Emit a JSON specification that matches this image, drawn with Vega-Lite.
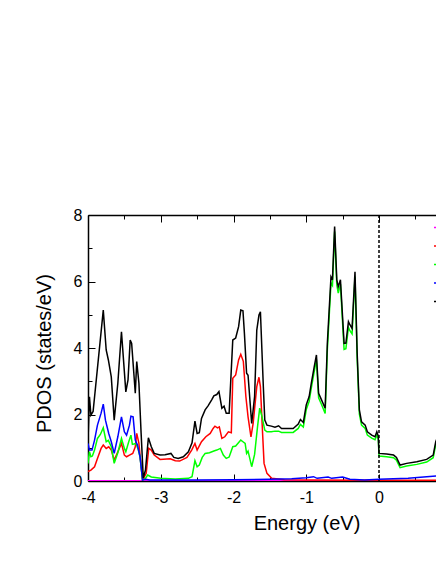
{
  "$schema": "https://vega.github.io/schema/vega-lite/v6.json",
  "autosize": "none",
  "padding": {"left": 88, "top": 215, "right": 0, "bottom": 83},
  "width": 348,
  "height": 266,
  "config": {
    "font": "Liberation Sans",
    "view": {"stroke": null},
    "axis": {
      "grid": false,
      "domainColor": "black",
      "domainWidth": 1.5,
      "tickColor": "black",
      "tickWidth": 1,
      "labelColor": "black",
      "titleColor": "black",
      "labelFont": "Liberation Sans",
      "titleFont": "Liberation Sans",
      "labelFontSize": 16,
      "titleFontSize": 20,
      "titleFontWeight": "normal",
      "labelFlush": false,
      "labelOverlap": false
    }
  },
  "layer": [
    {
      "data": {
        "values": [
          {"E": -4.0, "k": "s", "v": 0.01}, {"E": 2.0, "k": "s", "v": 0.01},

          {"E": -4.0, "k": "p", "v": 0.28}, {"E": -3.96, "k": "p", "v": 0.33}, {"E": -3.91, "k": "p", "v": 0.43}, {"E": -3.87, "k": "p", "v": 0.68}, {"E": -3.82, "k": "p", "v": 0.98}, {"E": -3.79, "k": "p", "v": 1.08}, {"E": -3.75, "k": "p", "v": 0.98}, {"E": -3.715, "k": "p", "v": 1.03}, {"E": -3.68, "k": "p", "v": 0.93}, {"E": -3.64, "k": "p", "v": 0.63}, {"E": -3.59, "k": "p", "v": 0.88}, {"E": -3.54, "k": "p", "v": 1.13}, {"E": -3.5, "k": "p", "v": 0.78}, {"E": -3.47, "k": "p", "v": 0.73}, {"E": -3.43, "k": "p", "v": 0.78}, {"E": -3.385, "k": "p", "v": 0.83}, {"E": -3.35, "k": "p", "v": 1.03}, {"E": -3.33, "k": "p", "v": 1.43}, {"E": -3.3, "k": "p", "v": 1.13}, {"E": -3.285, "k": "p", "v": 0.78}, {"E": -3.25, "k": "p", "v": 0.03}, {"E": -3.2, "k": "p", "v": 0.23}, {"E": -3.165, "k": "p", "v": 0.98}, {"E": -3.13, "k": "p", "v": 0.93}, {"E": -3.09, "k": "p", "v": 0.78}, {"E": -3.01, "k": "p", "v": 0.65}, {"E": -2.87, "k": "p", "v": 0.67}, {"E": -2.8, "k": "p", "v": 0.61}, {"E": -2.74, "k": "p", "v": 0.6}, {"E": -2.64, "k": "p", "v": 0.71}, {"E": -2.575, "k": "p", "v": 0.93}, {"E": -2.53, "k": "p", "v": 1.13}, {"E": -2.5, "k": "p", "v": 0.93}, {"E": -2.44, "k": "p", "v": 1.18}, {"E": -2.38, "k": "p", "v": 1.33}, {"E": -2.32, "k": "p", "v": 1.43}, {"E": -2.28, "k": "p", "v": 1.58}, {"E": -2.255, "k": "p", "v": 1.65}, {"E": -2.22, "k": "p", "v": 1.6}, {"E": -2.195, "k": "p", "v": 1.63}, {"E": -2.16, "k": "p", "v": 1.28}, {"E": -2.12, "k": "p", "v": 1.33}, {"E": -2.07, "k": "p", "v": 1.48}, {"E": -2.03, "k": "p", "v": 1.45}, {"E": -2.01, "k": "p", "v": 3.09}, {"E": -1.97, "k": "p", "v": 3.19}, {"E": -1.93, "k": "p", "v": 3.64}, {"E": -1.9, "k": "p", "v": 3.81}, {"E": -1.865, "k": "p", "v": 3.6}, {"E": -1.83, "k": "p", "v": 2.54}, {"E": -1.8, "k": "p", "v": 1.93}, {"E": -1.76, "k": "p", "v": 1.33}, {"E": -1.73, "k": "p", "v": 1.73}, {"E": -1.68, "k": "p", "v": 2.84}, {"E": -1.65, "k": "p", "v": 3.12}, {"E": -1.63, "k": "p", "v": 2.84}, {"E": -1.6, "k": "p", "v": 1.43}, {"E": -1.58, "k": "p", "v": 0.53}, {"E": -1.54, "k": "p", "v": 0.23}, {"E": -1.475, "k": "p", "v": 0.08}, {"E": -1.3, "k": "p", "v": 0.04}, {"E": -1.0, "k": "p", "v": 0.03}, {"E": 0.0, "k": "p", "v": 0.02}, {"E": 1.0, "k": "p", "v": 0.02},

          {"E": -4.0, "k": "d", "v": 0.53}, {"E": -3.98, "k": "d", "v": 0.88}, {"E": -3.96, "k": "d", "v": 0.73}, {"E": -3.94, "k": "d", "v": 0.75}, {"E": -3.91, "k": "d", "v": 0.93}, {"E": -3.87, "k": "d", "v": 1.28}, {"E": -3.83, "k": "d", "v": 1.4}, {"E": -3.79, "k": "d", "v": 1.6}, {"E": -3.75, "k": "d", "v": 1.18}, {"E": -3.72, "k": "d", "v": 1.22}, {"E": -3.68, "k": "d", "v": 1.03}, {"E": -3.64, "k": "d", "v": 0.53}, {"E": -3.59, "k": "d", "v": 0.85}, {"E": -3.54, "k": "d", "v": 1.28}, {"E": -3.5, "k": "d", "v": 0.98}, {"E": -3.48, "k": "d", "v": 0.88}, {"E": -3.44, "k": "d", "v": 1.18}, {"E": -3.41, "k": "d", "v": 1.38}, {"E": -3.39, "k": "d", "v": 1.1}, {"E": -3.34, "k": "d", "v": 1.13}, {"E": -3.31, "k": "d", "v": 0.95}, {"E": -3.285, "k": "d", "v": 0.73}, {"E": -3.25, "k": "d", "v": 0.03}, {"E": -3.21, "k": "d", "v": 0.08}, {"E": -3.18, "k": "d", "v": 0.18}, {"E": -3.13, "k": "d", "v": 0.12}, {"E": -3.0, "k": "d", "v": 0.08}, {"E": -2.8, "k": "d", "v": 0.06}, {"E": -2.62, "k": "d", "v": 0.08}, {"E": -2.57, "k": "d", "v": 0.13}, {"E": -2.53, "k": "d", "v": 0.61}, {"E": -2.5, "k": "d", "v": 0.43}, {"E": -2.47, "k": "d", "v": 0.48}, {"E": -2.43, "k": "d", "v": 0.71}, {"E": -2.39, "k": "d", "v": 0.83}, {"E": -2.33, "k": "d", "v": 0.85}, {"E": -2.27, "k": "d", "v": 0.9}, {"E": -2.23, "k": "d", "v": 0.93}, {"E": -2.18, "k": "d", "v": 0.98}, {"E": -2.14, "k": "d", "v": 0.78}, {"E": -2.1, "k": "d", "v": 0.68}, {"E": -2.06, "k": "d", "v": 0.72}, {"E": -2.01, "k": "d", "v": 1.03}, {"E": -1.97, "k": "d", "v": 1.05}, {"E": -1.9, "k": "d", "v": 1.23}, {"E": -1.87, "k": "d", "v": 1.18}, {"E": -1.84, "k": "d", "v": 1.13}, {"E": -1.82, "k": "d", "v": 0.83}, {"E": -1.8, "k": "d", "v": 0.9}, {"E": -1.75, "k": "d", "v": 0.43}, {"E": -1.71, "k": "d", "v": 0.8}, {"E": -1.67, "k": "d", "v": 1.63}, {"E": -1.64, "k": "d", "v": 2.19}, {"E": -1.61, "k": "d", "v": 1.95}, {"E": -1.57, "k": "d", "v": 1.53}, {"E": -1.54, "k": "d", "v": 1.48}, {"E": -1.48, "k": "d", "v": 1.48}, {"E": -1.43, "k": "d", "v": 1.5}, {"E": -1.38, "k": "d", "v": 1.5}, {"E": -1.34, "k": "d", "v": 1.46}, {"E": -1.26, "k": "d", "v": 1.46}, {"E": -1.18, "k": "d", "v": 1.46}, {"E": -1.11, "k": "d", "v": 1.58}, {"E": -1.08, "k": "d", "v": 1.7}, {"E": -1.04, "k": "d", "v": 1.62}, {"E": -1.0, "k": "d", "v": 2.15}, {"E": -0.96, "k": "d", "v": 2.4}, {"E": -0.93, "k": "d", "v": 2.8}, {"E": -0.89, "k": "d", "v": 3.3}, {"E": -0.86, "k": "d", "v": 3.65}, {"E": -0.83, "k": "d", "v": 2.5}, {"E": -0.79, "k": "d", "v": 2.3}, {"E": -0.74, "k": "d", "v": 2.03}, {"E": -0.71, "k": "d", "v": 3.95}, {"E": -0.66, "k": "d", "v": 5.95}, {"E": -0.64, "k": "d", "v": 5.88}, {"E": -0.61, "k": "d", "v": 7.5}, {"E": -0.58, "k": "d", "v": 5.9}, {"E": -0.56, "k": "d", "v": 5.65}, {"E": -0.53, "k": "d", "v": 5.92}, {"E": -0.48, "k": "d", "v": 3.96}, {"E": -0.455, "k": "d", "v": 3.98}, {"E": -0.42, "k": "d", "v": 4.62}, {"E": -0.4, "k": "d", "v": 4.52}, {"E": -0.37, "k": "d", "v": 4.42}, {"E": -0.33, "k": "d", "v": 6.15}, {"E": -0.3, "k": "d", "v": 3.7}, {"E": -0.27, "k": "d", "v": 2.02}, {"E": -0.24, "k": "d", "v": 1.68}, {"E": -0.19, "k": "d", "v": 1.58}, {"E": -0.16, "k": "d", "v": 1.38}, {"E": -0.1, "k": "d", "v": 1.29}, {"E": -0.055, "k": "d", "v": 1.24}, {"E": -0.03, "k": "d", "v": 1.38}, {"E": -0.01, "k": "d", "v": 1.27}, {"E": 0.0, "k": "d", "v": 0.75}, {"E": 0.105, "k": "d", "v": 0.73}, {"E": 0.2, "k": "d", "v": 0.7}, {"E": 0.24, "k": "d", "v": 0.63}, {"E": 0.29, "k": "d", "v": 0.4}, {"E": 0.38, "k": "d", "v": 0.45}, {"E": 0.52, "k": "d", "v": 0.5}, {"E": 0.655, "k": "d", "v": 0.57}, {"E": 0.745, "k": "d", "v": 0.7}, {"E": 0.78, "k": "d", "v": 1.1}, {"E": 0.85, "k": "d", "v": 1.5}, {"E": 1.0, "k": "d", "v": 1.7},

          {"E": -4.0, "k": "f", "v": 1.13}, {"E": -3.98, "k": "f", "v": 0.93}, {"E": -3.945, "k": "f", "v": 0.93}, {"E": -3.91, "k": "f", "v": 1.23}, {"E": -3.87, "k": "f", "v": 1.68}, {"E": -3.82, "k": "f", "v": 2.04}, {"E": -3.79, "k": "f", "v": 2.31}, {"E": -3.76, "k": "f", "v": 1.83}, {"E": -3.715, "k": "f", "v": 1.43}, {"E": -3.68, "k": "f", "v": 1.18}, {"E": -3.64, "k": "f", "v": 0.83}, {"E": -3.59, "k": "f", "v": 1.33}, {"E": -3.54, "k": "f", "v": 1.93}, {"E": -3.5, "k": "f", "v": 1.48}, {"E": -3.47, "k": "f", "v": 1.38}, {"E": -3.43, "k": "f", "v": 1.68}, {"E": -3.41, "k": "f", "v": 1.95}, {"E": -3.38, "k": "f", "v": 1.93}, {"E": -3.35, "k": "f", "v": 1.23}, {"E": -3.32, "k": "f", "v": 1.08}, {"E": -3.285, "k": "f", "v": 0.73}, {"E": -3.25, "k": "f", "v": 0.03}, {"E": -3.21, "k": "f", "v": 0.05}, {"E": -3.15, "k": "f", "v": 0.03}, {"E": -2.5, "k": "f", "v": 0.03}, {"E": -2.0, "k": "f", "v": 0.04}, {"E": -1.5, "k": "f", "v": 0.05}, {"E": -1.2, "k": "f", "v": 0.07}, {"E": -1.0, "k": "f", "v": 0.1}, {"E": -0.9, "k": "f", "v": 0.13}, {"E": -0.85, "k": "f", "v": 0.08}, {"E": -0.7, "k": "f", "v": 0.12}, {"E": -0.65, "k": "f", "v": 0.08}, {"E": -0.5, "k": "f", "v": 0.12}, {"E": -0.4, "k": "f", "v": 0.05}, {"E": -0.2, "k": "f", "v": 0.03}, {"E": 0.0, "k": "f", "v": 0.05}, {"E": 0.4, "k": "f", "v": 0.08}, {"E": 0.8, "k": "f", "v": 0.15}, {"E": 1.0, "k": "f", "v": 0.18},

          {"E": -4.0, "k": "Total", "v": 1.2}, {"E": -3.98, "k": "Total", "v": 2.53}, {"E": -3.96, "k": "Total", "v": 1.98}, {"E": -3.93, "k": "Total", "v": 2.09}, {"E": -3.79, "k": "Total", "v": 5.14}, {"E": -3.75, "k": "Total", "v": 3.94}, {"E": -3.72, "k": "Total", "v": 3.64}, {"E": -3.68, "k": "Total", "v": 3.13}, {"E": -3.64, "k": "Total", "v": 1.83}, {"E": -3.59, "k": "Total", "v": 2.94}, {"E": -3.54, "k": "Total", "v": 4.49}, {"E": -3.48, "k": "Total", "v": 2.68}, {"E": -3.45, "k": "Total", "v": 3.04}, {"E": -3.42, "k": "Total", "v": 4.24}, {"E": -3.4, "k": "Total", "v": 4.14}, {"E": -3.35, "k": "Total", "v": 2.64}, {"E": -3.33, "k": "Total", "v": 3.59}, {"E": -3.3, "k": "Total", "v": 2.94}, {"E": -3.27, "k": "Total", "v": 1.44}, {"E": -3.24, "k": "Total", "v": 0.09}, {"E": -3.21, "k": "Total", "v": 0.33}, {"E": -3.17, "k": "Total", "v": 1.3}, {"E": -3.13, "k": "Total", "v": 1.03}, {"E": -3.09, "k": "Total", "v": 0.83}, {"E": -3.01, "k": "Total", "v": 0.78}, {"E": -2.94, "k": "Total", "v": 0.79}, {"E": -2.86, "k": "Total", "v": 0.83}, {"E": -2.82, "k": "Total", "v": 0.71}, {"E": -2.76, "k": "Total", "v": 0.68}, {"E": -2.69, "k": "Total", "v": 0.73}, {"E": -2.62, "k": "Total", "v": 0.88}, {"E": -2.57, "k": "Total", "v": 1.15}, {"E": -2.53, "k": "Total", "v": 1.8}, {"E": -2.5, "k": "Total", "v": 1.43}, {"E": -2.47, "k": "Total", "v": 1.45}, {"E": -2.44, "k": "Total", "v": 1.88}, {"E": -2.39, "k": "Total", "v": 2.14}, {"E": -2.35, "k": "Total", "v": 2.26}, {"E": -2.3, "k": "Total", "v": 2.44}, {"E": -2.27, "k": "Total", "v": 2.56}, {"E": -2.23, "k": "Total", "v": 2.6}, {"E": -2.2, "k": "Total", "v": 2.69}, {"E": -2.16, "k": "Total", "v": 2.19}, {"E": -2.13, "k": "Total", "v": 2.25}, {"E": -2.1, "k": "Total", "v": 2.04}, {"E": -2.06, "k": "Total", "v": 2.04}, {"E": -2.01, "k": "Total", "v": 4.24}, {"E": -1.97, "k": "Total", "v": 4.3}, {"E": -1.93, "k": "Total", "v": 4.64}, {"E": -1.9, "k": "Total", "v": 5.14}, {"E": -1.87, "k": "Total", "v": 5.12}, {"E": -1.85, "k": "Total", "v": 4.44}, {"E": -1.82, "k": "Total", "v": 3.24}, {"E": -1.8, "k": "Total", "v": 3.18}, {"E": -1.75, "k": "Total", "v": 1.73}, {"E": -1.71, "k": "Total", "v": 2.54}, {"E": -1.68, "k": "Total", "v": 4.54}, {"E": -1.65, "k": "Total", "v": 4.99}, {"E": -1.63, "k": "Total", "v": 5.09}, {"E": -1.59, "k": "Total", "v": 2.84}, {"E": -1.57, "k": "Total", "v": 1.83}, {"E": -1.54, "k": "Total", "v": 1.68}, {"E": -1.48, "k": "Total", "v": 1.65}, {"E": -1.43, "k": "Total", "v": 1.62}, {"E": -1.38, "k": "Total", "v": 1.66}, {"E": -1.34, "k": "Total", "v": 1.58}, {"E": -1.26, "k": "Total", "v": 1.58}, {"E": -1.18, "k": "Total", "v": 1.58}, {"E": -1.11, "k": "Total", "v": 1.71}, {"E": -1.08, "k": "Total", "v": 1.85}, {"E": -1.04, "k": "Total", "v": 1.76}, {"E": -1.0, "k": "Total", "v": 2.29}, {"E": -0.96, "k": "Total", "v": 2.54}, {"E": -0.93, "k": "Total", "v": 2.94}, {"E": -0.89, "k": "Total", "v": 3.44}, {"E": -0.86, "k": "Total", "v": 3.79}, {"E": -0.83, "k": "Total", "v": 2.64}, {"E": -0.79, "k": "Total", "v": 2.44}, {"E": -0.74, "k": "Total", "v": 2.19}, {"E": -0.71, "k": "Total", "v": 4.14}, {"E": -0.66, "k": "Total", "v": 6.14}, {"E": -0.64, "k": "Total", "v": 6.05}, {"E": -0.61, "k": "Total", "v": 7.65}, {"E": -0.58, "k": "Total", "v": 6.05}, {"E": -0.56, "k": "Total", "v": 5.84}, {"E": -0.53, "k": "Total", "v": 6.05}, {"E": -0.48, "k": "Total", "v": 4.14}, {"E": -0.455, "k": "Total", "v": 4.15}, {"E": -0.42, "k": "Total", "v": 4.79}, {"E": -0.4, "k": "Total", "v": 4.7}, {"E": -0.37, "k": "Total", "v": 4.59}, {"E": -0.33, "k": "Total", "v": 6.29}, {"E": -0.3, "k": "Total", "v": 3.84}, {"E": -0.27, "k": "Total", "v": 2.14}, {"E": -0.24, "k": "Total", "v": 1.78}, {"E": -0.19, "k": "Total", "v": 1.68}, {"E": -0.16, "k": "Total", "v": 1.48}, {"E": -0.1, "k": "Total", "v": 1.38}, {"E": -0.055, "k": "Total", "v": 1.33}, {"E": -0.03, "k": "Total", "v": 1.48}, {"E": -0.01, "k": "Total", "v": 1.35}, {"E": 0.0, "k": "Total", "v": 0.83}, {"E": 0.105, "k": "Total", "v": 0.81}, {"E": 0.2, "k": "Total", "v": 0.78}, {"E": 0.24, "k": "Total", "v": 0.71}, {"E": 0.29, "k": "Total", "v": 0.48}, {"E": 0.38, "k": "Total", "v": 0.53}, {"E": 0.52, "k": "Total", "v": 0.58}, {"E": 0.655, "k": "Total", "v": 0.65}, {"E": 0.745, "k": "Total", "v": 0.78}, {"E": 0.78, "k": "Total", "v": 1.18}, {"E": 0.85, "k": "Total", "v": 1.6}, {"E": 1.0, "k": "Total", "v": 1.8}
        ]
      },
      "mark": {"type": "line", "strokeWidth": 1.5, "clip": true},
      "encoding": {
        "x": {
          "field": "E", "type": "quantitative",
          "scale": {"domain": [-4, 0.7835], "nice": false, "zero": false},
          "axis": {
            "orient": "bottom",
            "title": "Energy (eV)",
            "titleX": 218.5,
            "titleY": 48,
            "titleAlign": "center",
            "titleBaseline": "alphabetic",
            "values": [-4, -3.5, -3, -2.5, -2, -1.5, -1, -0.5, 0, 0.5],
            "labelExpr": "datum.value % 1 === 0 ? toString(datum.value) : ''",
            "tickSize": {"condition": {"test": "datum.value % 1 === 0", "value": -7}, "value": -4},
            "labelPadding": 15
          }
        },
        "y": {
          "field": "v", "type": "quantitative",
          "scale": {"domain": [0, 8], "nice": false},
          "axis": {
            "title": "PDOS (states/eV)",
            "titleX": -38,
            "titleY": 138,
            "titleAngle": -90,
            "titleAlign": "center",
            "titleBaseline": "alphabetic",
            "values": [0, 1, 2, 3, 4, 5, 6, 7, 8],
            "labelExpr": "datum.value % 2 === 0 ? datum.label : ''",
            "tickSize": {"condition": {"test": "datum.value % 2 === 0", "value": -7}, "value": -4},
            "labelPadding": 13
          }
        },
        "color": {
          "field": "k", "type": "nominal",
          "scale": {"domain": ["s", "p", "d", "f", "Total"], "range": ["#ff00ff", "#ff0000", "#00ff00", "#0000ff", "#000000"]},
          "legend": {
            "orient": "none",
            "legendX": 345,
            "legendY": 4,
            "title": null,
            "padding": 0,
            "symbolType": "stroke",
            "symbolStrokeWidth": 1.5,
            "symbolSize": 225,
            "labelFontSize": 16,
            "labelColor": "black",
            "rowPadding": 1.5
          }
        }
      }
    },
    {
      "data": {"values": [{"E": 0}]},
      "mark": {"type": "rule", "color": "black", "strokeWidth": 1.5, "strokeDash": [3, 2]},
      "encoding": {
        "x": {
          "field": "E", "type": "quantitative",
          "axis": {
            "orient": "top",
            "title": null,
            "labels": false,
            "values": [-4, -3.5, -3, -2.5, -2, -1.5, -1, -0.5, 0, 0.5],
            "tickSize": {"condition": {"test": "datum.value % 1 === 0", "value": -7}, "value": -4}
          }
        }
      }
    }
  ],
  "resolve": {"axis": {"x": "independent"}}
}
